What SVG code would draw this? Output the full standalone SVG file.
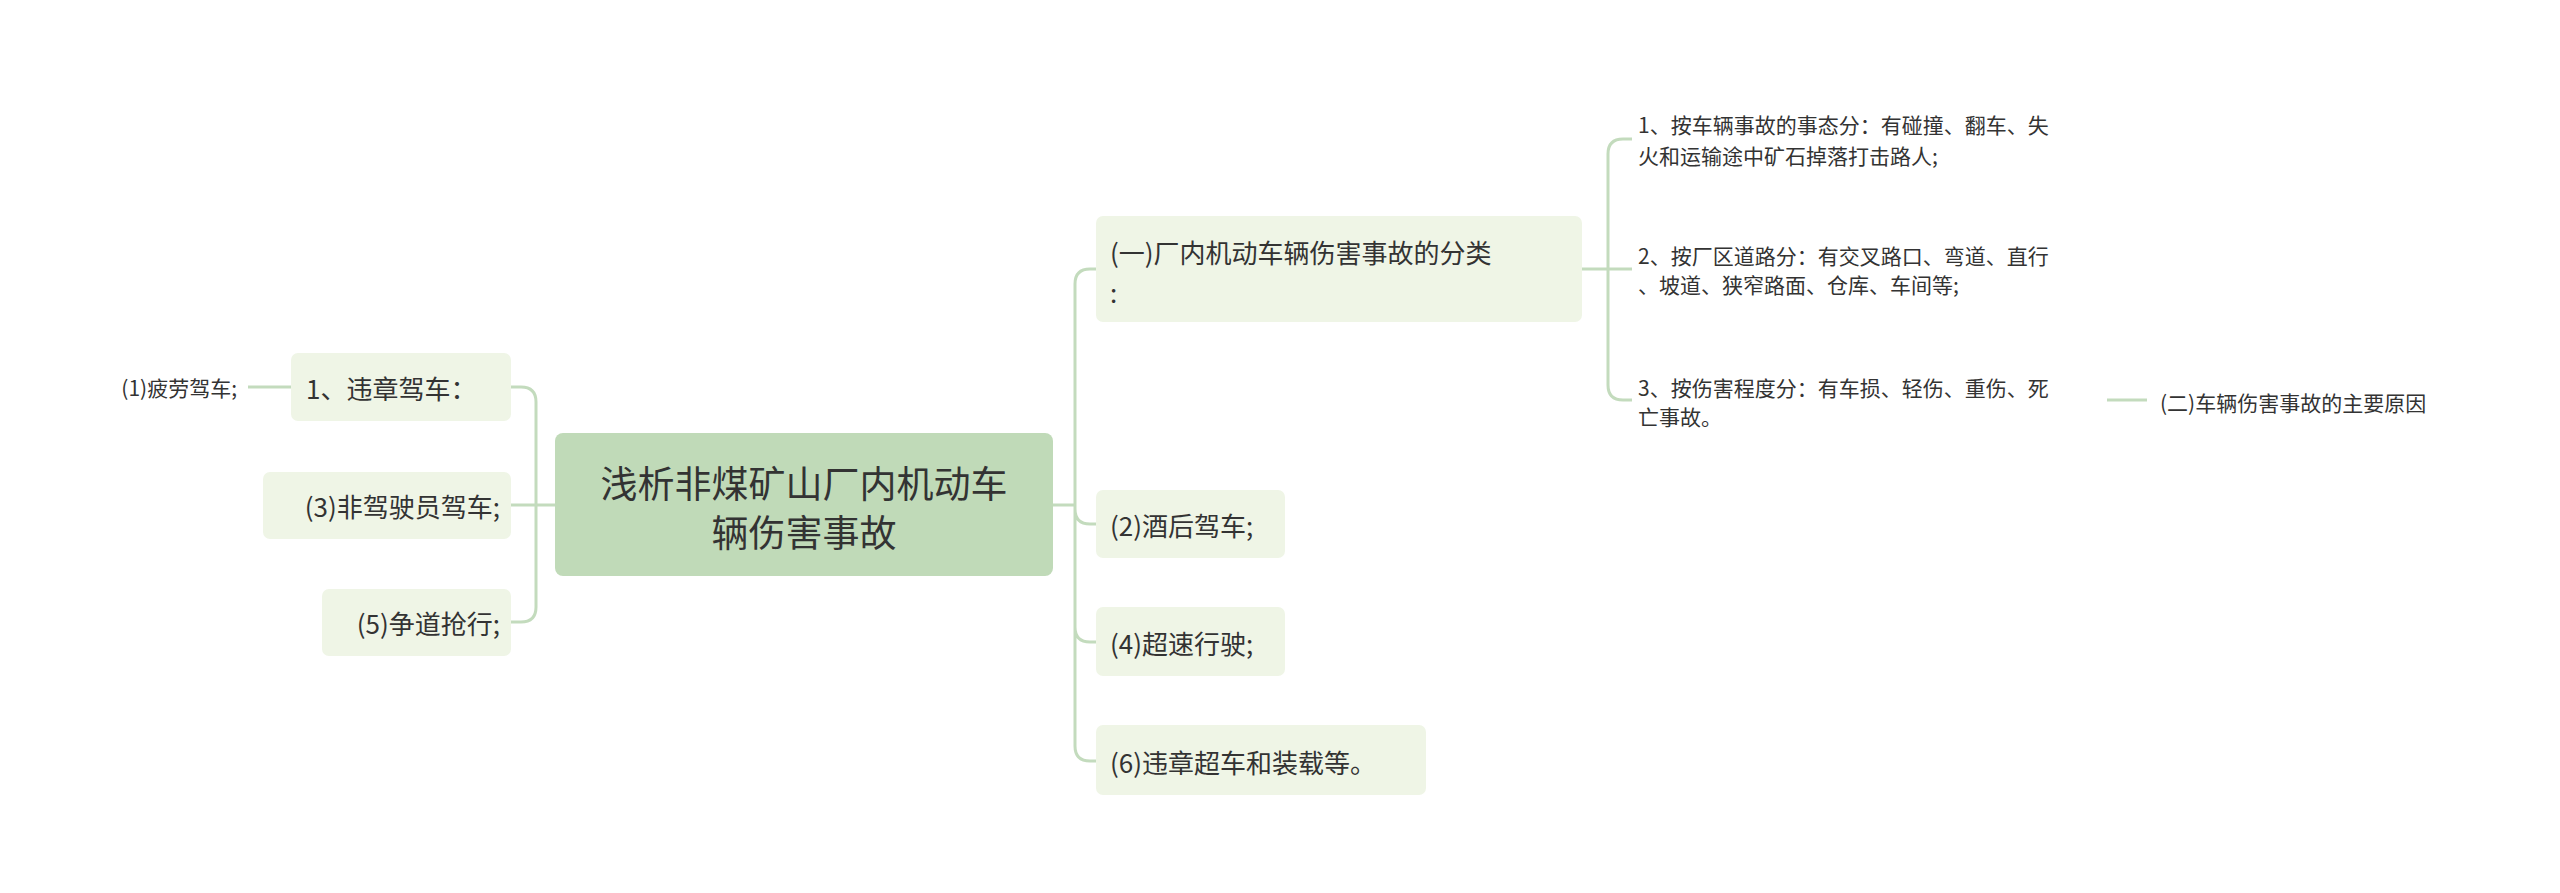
<svg xmlns="http://www.w3.org/2000/svg" width="2560" height="893" viewBox="0 0 2560 893">
<style>
text{font-family:"Noto Sans CJK SC","Noto Sans",sans-serif;fill:#333;dominant-baseline:central}
.n{fill:#eff5e6}
.c{fill:none;stroke:#c3dbbd;stroke-width:3}
.m{font-size:26px}
.s{font-size:21px}
</style>
<rect width="2560" height="893" fill="#fff"/>
<g id="connectors">
<path class="c" d="M555 505H536M536 505V402Q536 387 521 387H511M536 505V607Q536 622 521 622H511M511 505H536"/>
<path class="c" d="M291 387H248"/>
<path class="c" d="M1053 505H1075M1075 505V284Q1075 269 1090 269H1096M1075 505V509Q1075 524 1090 524H1096M1075 505V627Q1075 642 1090 642H1096M1075 505V746Q1075 761 1090 761H1096"/>
<path class="c" d="M1582 269H1608M1608 269V154Q1608 139 1623 139H1632M1608 269H1632M1608 269V385Q1608 400 1623 400H1632"/>
<path class="c" d="M2107 400H2147"/>
</g>
<g id="root"><rect x="555" y="433" width="498" height="143" rx="8" fill="#c0dab8"/>
<text x="804" y="482" text-anchor="middle" font-size="37">浅析非煤矿山厂内机动车</text>
<text x="804" y="531" text-anchor="middle" font-size="37">辆伤害事故</text></g>
<g id="l1"><rect class="n" x="291" y="353" width="220" height="68" rx="7"/><text class="m" x="306" y="387">1、违章驾车：</text></g>
<g id="l1a"><text class="s" x="237" y="387" text-anchor="end">(1)疲劳驾车;</text></g>
<g id="l3"><rect class="n" x="263" y="472" width="248" height="67" rx="7"/><text class="m" x="500" y="505" text-anchor="end">(3)非驾驶员驾车;</text></g>
<g id="l5"><rect class="n" x="322" y="589" width="189" height="67" rx="7"/><text class="m" x="500" y="622" text-anchor="end">(5)争道抢行;</text></g>
<g id="r1"><rect class="n" x="1096" y="216" width="486" height="106" rx="7"/><text class="m" x="1110" y="251">(一)厂内机动车辆伤害事故的分类</text><text class="m" x="1110" y="291">:</text></g>
<g id="r2"><rect class="n" x="1096" y="490" width="189" height="68" rx="7"/><text class="m" x="1110" y="524">(2)酒后驾车;</text></g>
<g id="r4"><rect class="n" x="1096" y="607" width="189" height="69" rx="7"/><text class="m" x="1110" y="642">(4)超速行驶;</text></g>
<g id="r6"><rect class="n" x="1096" y="725" width="330" height="70" rx="7"/><text class="m" x="1110" y="761">(6)违章超车和装载等。</text></g>
<g id="t1"><text class="s" x="1638" y="124">1、按车辆事故的事态分：有碰撞、翻车、失</text><text class="s" x="1638" y="155">火和运输途中矿石掉落打击路人;</text></g>
<g id="t2"><text class="s" x="1638" y="255">2、按厂区道路分：有交叉路口、弯道、直行</text><text class="s" x="1638" y="284">、坡道、狭窄路面、仓库、车间等;</text></g>
<g id="t3"><text class="s" x="1638" y="387">3、按伤害程度分：有车损、轻伤、重伤、死</text><text class="s" x="1638" y="416">亡事故。</text></g>
<g id="t4"><text class="s" x="2160" y="402">(二)车辆伤害事故的主要原因</text></g>
</svg>
